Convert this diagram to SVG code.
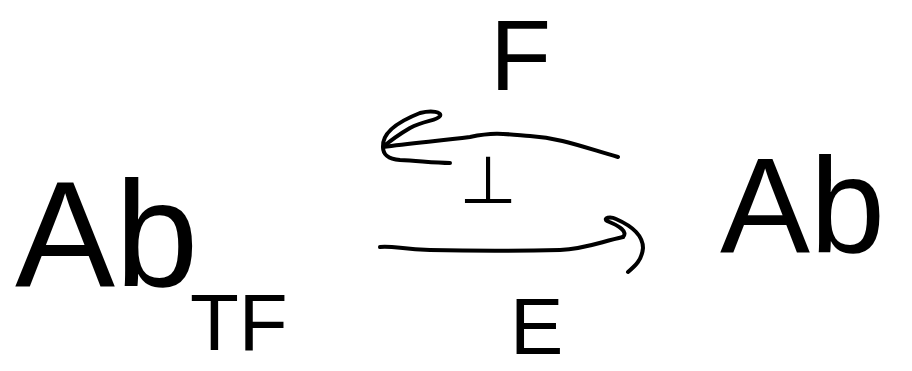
<svg xmlns="http://www.w3.org/2000/svg" width="912" height="371" viewBox="0 0 912 371">
  <style>
    .lbl { font-family: "Liberation Sans", "DejaVu Sans", sans-serif; fill: #000; }
    .stroke { fill: none; stroke: #000; stroke-width: 4; stroke-linecap: round; stroke-linejoin: round; }
  </style>
  <rect width="912" height="371" fill="#fff"/>
  <g id="node-abtf">
    <text class="lbl" x="15" y="286" font-size="150">Ab</text>
    <text class="lbl" x="190" y="350" font-size="80">TF</text>
  </g>
  <g id="node-ab">
    <text class="lbl" x="720" y="252" font-size="135">Ab</text>
  </g>
  <g id="connectors">
    <g id="arrow-F">
      <path class="stroke" d="M618,157 C580,146 560,138 530,136 C505,134 495,132 470,137 C440,141 410,143 383,147"/>
      <path class="stroke" d="M383,147 C382,135 392,124 420,113 C432,110 442,112 440,116 C437,121 425,120 410,128 C398,135 390,141 383,147 C383,155 388,159 400,160 C420,161 435,163 450,163"/>
    </g>
    <g id="arrow-E">
      <path class="stroke" d="M380,247 C395,246 400,249 430,250 C470,251 520,251 560,250 C585,249 600,242 623,237"/>
      <path class="stroke" d="M623,237 C628,232 620,226 607,221 C603,218 610,216 616,219 C632,226 643,236 643,248 C642,260 635,266 628,272"/>
    </g>
    <text class="lbl" x="490" y="90" font-size="100">F</text>
    <text class="lbl" x="488" y="203" font-size="66" text-anchor="middle">⊥</text>
    <text class="lbl" x="510" y="354" font-size="80">E</text>
  </g>
</svg>
